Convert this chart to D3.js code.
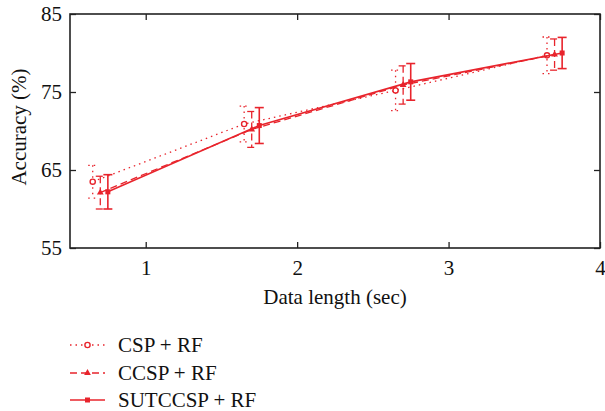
<!DOCTYPE html>
<html>
<head>
<meta charset="utf-8">
<script src="https://cdn.jsdelivr.net/npm/d3@7"></script>
<style>
  body { margin: 0; background: #fff; }
  text { font-family: "Liberation Serif", "DejaVu Serif", serif; fill: #111; }
</style>
</head>
<body>
<div id="chart-area"></div>
<script>
// data
var xTicks = [1, 2, 3, 4];
var yTicks = [55, 65, 75, 85];
var seriesNames = ["CSP + RF", "CCSP + RF", "SUTCCSP + RF"];
var xCsp = [0.65, 1.65, 2.65, 3.65];
var xCcsp = [0.7, 1.7, 2.7, 3.7];
var xSut = [0.75, 1.75, 2.75, 3.75];
var cspMean = [63.5, 70.9, 75.2, 79.7];
var cspErr = [2.1, 2.3, 2.6, 2.35];
var ccspMean = [62.1, 70.2, 75.9, 79.8];
var ccspErr = [2.1, 2.3, 2.45, 2.0];
var sutMean = [62.2, 70.7, 76.3, 80.0];
var sutErr = [2.2, 2.3, 2.35, 2.0];

var margin = { left: 70, right: 5, top: 14, bottom: 163 };
var W = 605, H = 411;
var width = W - margin.left - margin.right,
    height = H - margin.top - margin.bottom;
var red = "#e8242c";
var fs = "21px";

var svg = d3.select("#chart-area").append("svg")
    .attr("width", W).attr("height", H);
var g = svg.append("g")
    .attr("transform", "translate(" + margin.left + "," + margin.top + ")");

var x = d3.scaleLinear().domain([0.5, 4]).range([0, width]);
var y = d3.scaleLinear().domain([55, 85]).range([height, 0]);

// axes, ticks pointing in
g.append("g").attr("transform", "translate(0," + height + ")")
    .call(d3.axisBottom(x).tickValues(xTicks).tickFormat(d3.format("d")).tickSizeInner(-6).tickSizeOuter(0).tickPadding(12))
    .call(a => a.select(".domain").remove());
g.append("g")
    .call(d3.axisLeft(y).tickValues(yTicks).tickSizeInner(-6).tickSizeOuter(0).tickPadding(8))
    .call(a => a.select(".domain").remove());
g.append("g").attr("transform", "translate(" + width + ",0)")
    .call(d3.axisRight(y).tickValues(yTicks).tickSizeInner(-6).tickSizeOuter(0).tickFormat(""))
    .call(a => a.select(".domain").remove());
g.append("g")
    .call(d3.axisTop(x).tickValues(xTicks).tickSizeInner(-6).tickSizeOuter(0).tickFormat(""))
    .call(a => a.select(".domain").remove());
g.selectAll(".tick line").attr("stroke", "#222").attr("stroke-width", 1.3);
g.selectAll(".tick text").style("font-size", fs).attr("fill", "#111")
    .style("font-family", "Liberation Serif, DejaVu Serif, serif");

g.append("rect").attr("width", width).attr("height", height)
    .attr("fill", "none").attr("stroke", "#222").attr("stroke-width", 1.6);

svg.append("text").attr("transform", "translate(26,127) rotate(-90)")
    .attr("text-anchor", "middle").style("font-size", fs).text("Accuracy (%)");
svg.append("text").attr("x", 335).attr("y", 304)
    .attr("text-anchor", "middle").style("font-size", fs).text("Data length (sec)");

var series = [
    { name: seriesNames[0], xs: xCsp, m: cspMean, e: cspErr, dash: "1.5,4", marker: "circle", w: 1.3 },
    { name: seriesNames[1], xs: xCcsp, m: ccspMean, e: ccspErr, dash: "7,4", marker: "triangle", w: 1.3 },
    { name: seriesNames[2], xs: xSut, m: sutMean, e: sutErr, dash: null, marker: "square", w: 1.6 }
];

var line = d3.line().x(d => x(d[0])).y(d => y(d[1]));

function drawMarker(sel, type, cx, cy) {
    if (type == "circle") {
        sel.append("circle").attr("cx", cx).attr("cy", cy).attr("r", 2.6)
            .attr("fill", "#fff").attr("stroke", red).attr("stroke-width", 1.4);
    } else if (type == "triangle") {
        sel.append("path").attr("d", d3.symbol(d3.symbolTriangle, 20)())
            .attr("transform", "translate(" + cx + "," + cy + ")").attr("fill", red);
    } else {
        sel.append("rect").attr("x", cx - 2.5).attr("y", cy - 2.5).attr("width", 5).attr("height", 5)
            .attr("fill", red);
    }
}

series.forEach(function (s) {
    var pts = s.xs.map((v, i) => [v, s.m[i], s.e[i]]);
    var sg = g.append("g");
    sg.append("path").datum(pts).attr("d", line)
        .attr("fill", "none").attr("stroke", red).attr("stroke-width", s.w)
        .attr("stroke-dasharray", s.dash);
    pts.forEach(function (p) {
        var cx = x(p[0]), y1 = y(p[1] + p[2]), y2 = y(p[1] - p[2]);
        var eb = sg.append("g").attr("stroke", red).attr("stroke-width", s.w)
            .attr("stroke-dasharray", s.dash);
        eb.append("line").attr("x1", cx).attr("x2", cx).attr("y1", y1).attr("y2", y2);
        eb.append("line").attr("x1", cx - 4.5).attr("x2", cx + 4.5).attr("y1", y1).attr("y2", y1);
        eb.append("line").attr("x1", cx - 4.5).attr("x2", cx + 4.5).attr("y1", y2).attr("y2", y2);
        drawMarker(sg, s.marker, cx, y(p[1]));
    });
});

// legend
var legY = [345, 373, 400];
series.forEach(function (s, i) {
    var lg = svg.append("g").attr("transform", "translate(70," + legY[i] + ")");
    lg.append("line").attr("x1", 0).attr("x2", 35).attr("y1", 0).attr("y2", 0)
        .attr("stroke", red).attr("stroke-width", s.w).attr("stroke-dasharray", s.dash);
    drawMarker(lg, s.marker, 17.5, 0);
    lg.append("text").attr("x", 48).attr("y", 7).style("font-size", fs).text(s.name);
});
</script>
</body>
</html>
